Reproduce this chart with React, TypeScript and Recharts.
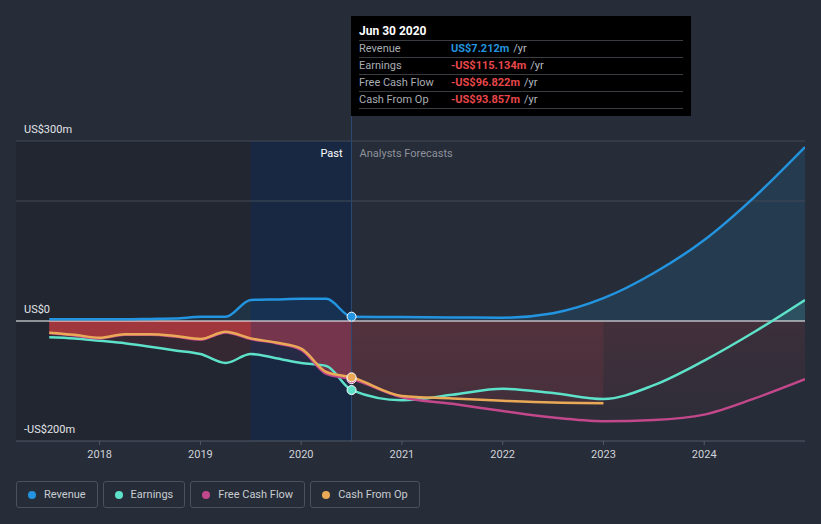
import React from 'react';
import {
  ComposedChart, Area, Line, XAxis, YAxis,
  ReferenceLine, ReferenceArea, ReferenceDot,
} from 'recharts';

// quarterly trailing figures (US$m), past
const pastYears = [2017.5, 2017.75, 2018, 2018.25, 2018.5, 2018.75, 2019, 2019.25, 2019.5, 2019.75, 2020, 2020.25, 2020.5];
const revenuePast = [3, 3, 3, 3, 3.5, 4, 7, 7, 35, 36, 37, 37, 7.212];
const earningsPast = [-27, -29, -33, -37, -43, -49, -55, -70, -55, -62, -70, -75, -115.134];
const fcfPast = [-20, -24, -29, -23, -23, -26, -31, -19, -30, -37, -48, -88, -96.822];
const cfoPast = [-19.5, -23, -28, -22, -22, -25, -30, -18, -29, -36, -46, -85, -93.857];

// analyst forecasts (US$m)
const forecastYears = [2020.5, 2021, 2021.5, 2022, 2022.5, 2023, 2023.5, 2024, 2024.5, 2025];
const revenueForecast = [7.212, 6.5, 6, 5.5, 13, 38, 80, 135, 207, 290];
const earningsForecast = [-115.134, -132, -123, -113, -120, -130, -107, -66, -18, 35];
const fcfForecast = [-96.822, -127, -138, -150, -161, -167, -165, -156, -129, -97];
const cfoForecast = [-93.857, -125, -129, -133, -136, -137];

const xTicks = [2018, 2019, 2020, 2021, 2022, 2023, 2024];
const yTicks = [-200, 0, 300];
const gridValues = [300, 200];

const tooltipRows = [
  { label: 'Revenue', value: 'US$7.212m', color: '#2394df' },
  { label: 'Earnings', value: '-US$115.134m', color: '#e8474a' },
  { label: 'Free Cash Flow', value: '-US$96.822m', color: '#e8474a' },
  { label: 'Cash From Op', value: '-US$93.857m', color: '#e8474a' },
];

const COLORS = {
  revenue: '#2394df',
  earnings: '#5ee1c9',
  fcf: '#c2478b',
  cfo: '#eaa957',
  red: '#e4474c',
};

const legendItems = [
  { name: 'Revenue', color: COLORS.revenue },
  { name: 'Earnings', color: COLORS.earnings },
  { name: 'Free Cash Flow', color: COLORS.fcf },
  { name: 'Cash From Op', color: COLORS.cfo },
];

const W = 821;
const H = 470;
const M = { top: 141, right: 16, bottom: 0, left: 16 };
const X_AXIS_H = 29;
const X_DOMAIN = [2017.17, 2025];
const Y_DOMAIN = [-200, 300];
const NOW = pastYears[pastYears.length - 1];

const plotTop = M.top;
const plotBottom = H - M.bottom - X_AXIS_H;
const zeroOffset = Y_DOMAIN[1] / (Y_DOMAIN[1] - Y_DOMAIN[0]);

// merge the arrays into rows for recharts
const allYears = Array.from(new Set([...pastYears, ...forecastYears])).sort((a, b) => a - b);
const data = allYears.map((x) => {
  const p = pastYears.indexOf(x);
  const f = forecastYears.indexOf(x);
  const pick = (arr: number[], i: number) => (i >= 0 && i < arr.length ? arr[i] : undefined);
  return {
    x,
    rev: p >= 0 ? revenuePast[p] : pick(revenueForecast, f),
    earn: p >= 0 ? earningsPast[p] : pick(earningsForecast, f),
    fcf: p >= 0 ? fcfPast[p] : pick(fcfForecast, f),
    cfo: p >= 0 ? cfoPast[p] : pick(cfoForecast, f),
    earnP: pick(earningsPast, p),
    fcfP: pick(fcfPast, p),
    cfoP: pick(cfoPast, p),
    earnF: pick(earningsForecast, f),
    fcfF: pick(fcfForecast, f),
    cfoF: pick(cfoForecast, f),
  };
});

const fmtY = (v: number) => (v === 0 ? 'US$0' : v < 0 ? `-US$${-v}m` : `US$${v}m`);

const YLabel = (props: any) => {
  const { viewBox, value } = props;
  return (
    <text x={viewBox.x + 8} y={viewBox.y - 8} fill="#e2e4e8" fontSize={11} textAnchor="start">
      {fmtY(value)}
    </text>
  );
};

const NowLabel = (props: any) => {
  const { viewBox } = props;
  const x = viewBox.x;
  const y = viewBox.y + 16;
  return (
    <g>
      <text x={x - 9} y={y} fill="#ffffff" fontSize={11} textAnchor="end">Past</text>
      <text x={x + 8} y={y} fill="#8d929b" fontSize={11} textAnchor="start">Analysts Forecasts</text>
    </g>
  );
};

const font = 'Roboto, "Noto Sans", sans-serif';

export default function App() {
  return (
    <div style={{ position: 'absolute', left: 0, top: 0, width: W, height: 524, background: '#262c38', fontFamily: font, overflow: 'hidden' }}>
      <ComposedChart width={W} height={H} data={data} margin={M} style={{ fontFamily: font }}>
        <defs>
          <linearGradient id="earnFc" x1="0" y1={plotTop} x2="0" y2={plotBottom} gradientUnits="userSpaceOnUse">
            <stop offset={0} stopColor={COLORS.earnings} stopOpacity={0.22} />
            <stop offset={zeroOffset} stopColor={COLORS.earnings} stopOpacity={0.22} />
            <stop offset={zeroOffset} stopColor={COLORS.red} stopOpacity={0.08} />
            <stop offset={1} stopColor={COLORS.red} stopOpacity={0.04} />
          </linearGradient>
          <linearGradient id="fcfFc" x1="0" y1={plotTop} x2="0" y2={plotBottom} gradientUnits="userSpaceOnUse">
            <stop offset={zeroOffset} stopColor={COLORS.red} stopOpacity={0.18} />
            <stop offset={1} stopColor={COLORS.red} stopOpacity={0.05} />
          </linearGradient>
        </defs>

        <XAxis
          dataKey="x"
          type="number"
          domain={X_DOMAIN}
          ticks={xTicks}
          allowDataOverflow
          height={X_AXIS_H}
          stroke="#525a68"
          tickSize={4}
          tickMargin={5}
          tick={{ fill: '#d0d3d9', fontSize: 11 }}
          interval={0}
        />
        <YAxis type="number" domain={Y_DOMAIN} allowDataOverflow hide />

        <Area dataKey="rev" type="monotone" stroke="none" fill={COLORS.revenue} fillOpacity={0.15} baseValue={0} isAnimationActive={false} />
        <Area dataKey="earnP" type="monotone" stroke="none" fill={COLORS.red} fillOpacity={0.12} baseValue={0} isAnimationActive={false} />
        <Area dataKey="fcfP" type="monotone" stroke="none" fill={COLORS.red} fillOpacity={0.42} baseValue={0} isAnimationActive={false} />
        <Area dataKey="cfoP" type="monotone" stroke="none" fill={COLORS.red} fillOpacity={0.55} baseValue={0} isAnimationActive={false} />
        <Area dataKey="earnF" type="monotone" stroke="none" fill="url(#earnFc)" baseValue={0} isAnimationActive={false} />
        <Area dataKey="fcfF" type="monotone" stroke="none" fill="url(#fcfFc)" baseValue={0} isAnimationActive={false} />
        <Area dataKey="cfoF" type="monotone" stroke="none" fill={COLORS.red} fillOpacity={0.1} baseValue={0} isAnimationActive={false} />

        <ReferenceArea x1={X_DOMAIN[0]} x2={NOW - 1} fill="#000000" fillOpacity={0.13} stroke="none" />
        <ReferenceArea x1={NOW - 1} x2={NOW} fill="#00205a" fillOpacity={0.36} stroke="none" />

        {gridValues.map((v) => (
          <ReferenceLine key={v} y={v} stroke="#434a57" strokeWidth={1} />
        ))}
        <ReferenceLine y={0} stroke="#ffffff" strokeWidth={1} />
        {yTicks.map((v) => (
          <ReferenceLine key={`l${v}`} y={v} stroke="none" label={<YLabel value={v} />} />
        ))}
        <ReferenceLine x={NOW} stroke="#2b4a72" strokeWidth={1} label={<NowLabel />} />

        <Line dataKey="earn" type="monotone" stroke={COLORS.earnings} strokeWidth={2.5} dot={false} isAnimationActive={false} />
        <Line dataKey="fcf" type="monotone" stroke={COLORS.fcf} strokeWidth={2.5} dot={false} isAnimationActive={false} />
        <Line dataKey="cfo" type="monotone" stroke={COLORS.cfo} strokeWidth={2.5} dot={false} isAnimationActive={false} />
        <Line dataKey="rev" type="monotone" stroke={COLORS.revenue} strokeWidth={2.5} dot={false} isAnimationActive={false} />

        <ReferenceDot x={NOW} y={fcfPast[fcfPast.length - 1]} r={4.5} fill={COLORS.fcf} stroke="#ffffff" strokeWidth={1} />
        <ReferenceDot x={NOW} y={cfoPast[cfoPast.length - 1]} r={4.5} fill={COLORS.cfo} stroke="#ffffff" strokeWidth={1} />
        <ReferenceDot x={NOW} y={earningsPast[earningsPast.length - 1]} r={4.5} fill={COLORS.earnings} stroke="#ffffff" strokeWidth={1} />
        <ReferenceDot x={NOW} y={revenuePast[revenuePast.length - 1]} r={4.5} fill={COLORS.revenue} stroke="#ffffff" strokeWidth={1} />
      </ComposedChart>

      {/* cursor line above plot */}
      <div style={{ position: 'absolute', left: 351, top: 116, width: 1, height: 25, background: '#2b4a72' }} />

      {/* tooltip box */}
      <div style={{ position: 'absolute', left: 351, top: 16, width: 340, height: 100, background: '#000000', boxSizing: 'border-box', padding: '8px 8px 0 8px', fontSize: 11 }}>
        <div style={{ color: '#ffffff', fontWeight: 700, fontSize: 12, height: 16, lineHeight: '15px', borderBottom: '1px solid #3a3d42' }}>Jun 30 2020</div>
        {tooltipRows.map((r) => (
          <div key={r.label} style={{ display: 'flex', height: 16, lineHeight: '16px', borderBottom: '1px solid #3a3d42' }}>
            <span style={{ width: 92, color: '#a9adb4' }}>{r.label}</span>
            <span style={{ color: r.color, fontWeight: 700 }}>{r.value}</span>
            <span style={{ color: '#b5b9c0', marginLeft: 4 }}>/yr</span>
          </div>
        ))}
      </div>

      {/* legend */}
      <div style={{ position: 'absolute', left: 16, top: 481, display: 'flex', gap: 5 }}>
        {legendItems.map((it) => (
          <div key={it.name} style={{ height: 27, boxSizing: 'border-box', border: '1px solid #4a505c', borderRadius: 3, display: 'flex', alignItems: 'center', padding: '0 11px 0 11px', color: '#c9ccd2', fontSize: 11 }}>
            <span style={{ width: 8, height: 8, borderRadius: 4, background: it.color, marginRight: 8 }} />
            {it.name}
          </div>
        ))}
      </div>
    </div>
  );
}
